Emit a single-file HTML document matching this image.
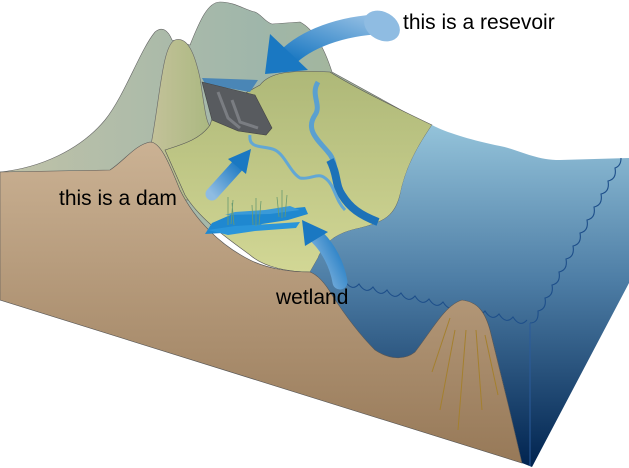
<!DOCTYPE html>
<html><head><meta charset="utf-8"><style>
html,body{margin:0;padding:0;background:#fff;width:629px;height:468px;overflow:hidden}
svg{display:block}
text{font-family:"Liberation Sans",Arial,sans-serif;font-size:21px;fill:#000}
</style></head><body>
<svg width="629" height="468" viewBox="0 0 629 468" xmlns="http://www.w3.org/2000/svg">
<defs>
<linearGradient id="mtn" x1="0" y1="0" x2="1" y2="0"><stop offset="0" stop-color="#c0c2a8"/><stop offset="0.6" stop-color="#9fb6aa"/><stop offset="1" stop-color="#a9b58c"/></linearGradient>
<linearGradient id="hill" x1="0" y1="0" x2="1" y2="0"><stop offset="0" stop-color="#c4c29a"/><stop offset="1" stop-color="#aab880"/></linearGradient>
<linearGradient id="land" x1="0" y1="0" x2="0" y2="1"><stop offset="0" stop-color="#aeb878"/><stop offset="1" stop-color="#d2d795"/></linearGradient>
<linearGradient id="sea" x1="0" y1="125" x2="0" y2="468" gradientUnits="userSpaceOnUse"><stop offset="0" stop-color="#94c3da"/><stop offset="0.45" stop-color="#4e7ea6"/><stop offset="1" stop-color="#00234f"/></linearGradient>
<linearGradient id="brown" x1="0" y1="0" x2="0" y2="1"><stop offset="0" stop-color="#cbb294"/><stop offset="1" stop-color="#977958"/></linearGradient>
<linearGradient id="arr" x1="1" y1="0" x2="0" y2="1"><stop offset="0" stop-color="#8fbce2"/><stop offset="1" stop-color="#1a78c2"/></linearGradient>
<linearGradient id="arr2" x1="0" y1="1" x2="1" y2="0"><stop offset="0" stop-color="#8fbce2"/><stop offset="1" stop-color="#1a78c2"/></linearGradient>
</defs>
<path d="M0,172 C40,168 80,150 105,120 C125,95 140,50 155,32 C162,26 168,30 172,40 L190,45 C200,20 208,2 220,2 C235,2 245,10 255,12 C262,15 265,22 272,24 L300,22 C315,30 325,50 332,72 L432,127 L432,230 L0,230 Z" fill="url(#mtn)" stroke="#666" stroke-width="0.6"/>
<path d="M150,150 C160,100 162,45 175,40 C188,36 195,55 200,78 C205,110 206,125 212,128 L200,200 L150,200 Z" fill="url(#hill)" stroke="#666" stroke-width="0.6"/>
<path d="M165,150 C180,145 200,140 210,125 L215,110 L260,85 C270,72 290,70 330,72 C350,85 390,105 432,125 C415,150 405,170 400,195 C395,215 385,222 360,228 C340,232 325,240 318,258 L310,272 C290,272 265,268 250,255 C230,240 200,220 185,195 Z" fill="url(#land)" stroke="#555" stroke-width="0.6"/>
<path d="M432,125 C445,132 470,140 500,146 C520,150 535,160 560,160 L629,158 L629,283 L532,467 L522,463 C512,420 500,370 490,330 C485,312 478,302 462,300 C445,305 432,330 415,352 C405,360 390,360 375,350 C360,335 345,315 332,295 C325,283 318,275 310,272 L318,258 C325,240 340,232 360,228 C385,222 395,215 400,195 C405,170 415,150 432,125 Z" fill="url(#sea)"/>
<path d="M345,281 q7,11 14,3 q7,11 14,3 q7,11 14,3 q7,11 14,3 q7,11 14,3 q7,11 14,3 q7,11 14,3 q7,11 14,3 q7,11 14,3 q7,11 14,3 q7,11 14,3 q7,11 14,3 q7,11 14,3" fill="none" stroke="#1e4f8a" stroke-width="1.1"/>
<path d="M530,323 q9,0 8,-12 q9,-2 7,-13 q9,-2 7,-13 q9,-2 7,-13 q9,-2 7,-13 q9,-2 7,-13 q9,-2 7,-13 q9,-2 7,-13 q9,-2 7,-13 q9,-2 7,-13 q9,-2 7,-13 q9,-2 7,-13 q6,-2 6,-10" fill="none" stroke="#1e4f8a" stroke-width="1.1"/>
<line x1="530" y1="323" x2="530" y2="466" stroke="#2a5a9a" stroke-width="1"/>
<path d="M0,172 L110,170 C125,160 135,145 150,142 C160,142 168,160 180,190 C195,220 220,245 250,260 C270,270 295,272 310,272 C318,275 325,283 332,295 C345,315 360,335 375,350 C390,360 405,360 415,352 C432,330 445,305 462,300 C478,302 485,312 490,330 C500,370 512,420 522,463 L0,300 Z" fill="url(#brown)" stroke="#555" stroke-width="0.6"/>
<g stroke="#a4802e" stroke-width="1" fill="none">
<path d="M450,318 L432,372"/><path d="M455,330 L440,410"/><path d="M466,330 L458,430"/><path d="M476,330 L482,410"/><path d="M485,335 L498,395"/>
</g>
<path d="M202,78 L258,80 L250,92 L205,84 Z" fill="#4a86b6"/>
<path d="M202,82 L255,95 L272,128 L266,135 L238,131 L212,120 Z" fill="#585b5f" stroke="#444" stroke-width="0.6"/>
<path d="M218,92 L228,118 L240,128 M232,100 L240,122 L258,128" stroke="#7a7d82" stroke-width="3" fill="none"/>
<path d="M318,82 C310,95 322,105 315,115 C305,130 318,140 328,152 C340,165 330,180 340,192 C348,205 355,215 378,222" fill="none" stroke="#5aa0d0" stroke-width="5"/>
<path d="M330,160 C338,175 335,185 342,195 C350,208 360,215 378,222" fill="none" stroke="#1d72b8" stroke-width="8"/>
<path d="M250,135 C248,150 265,145 275,150 C285,155 290,172 300,178 C310,180 318,172 325,178 C335,185 335,200 345,210" fill="none" stroke="#62a7d4" stroke-width="3"/>
<path d="M212,223 L235,213 L275,210 L305,207 L308,214 L288,220 L262,224 L240,232 L205,234 Z" fill="#1f88d0"/>
<path d="M208,230 L235,226 L270,224 L300,222 L296,228 L255,231 L228,235 Z" fill="#2a95da"/>
<path d="M225,215 L235,212 L265,210 L290,206 L300,210 L270,214 Z" fill="#3a9ad8"/>
<g stroke="#6a9a70" stroke-width="0.8"><path d="M228,225 l0,-28 M231,224 l2,-24 M234,225 l-2,-22 M256,226 l0,-28 M259,225 l2,-24 M253,225 l-1,-20 M282,218 l0,-28 M285,217 l2,-22 M279,217 l-2,-20"/></g>
<path d="M385,24 C340,25 305,40 287,58" fill="none" stroke="url(#arr)" stroke-width="20" stroke-linecap="round"/>
<path d="M265,74 L270,34 L308,70 Z" fill="#1a78c2"/>
<ellipse cx="382" cy="26" rx="14" ry="19" fill="#8fbce2" transform="rotate(-60 382 26)"/>
<path d="M212,194 C222,183 232,172 240,163" fill="none" stroke="url(#arr2)" stroke-width="13" stroke-linecap="round"/>
<path d="M251,149 L228,159 L246,174 Z" fill="#1a78c2"/>
<path d="M340,282 C337,264 328,248 318,238" fill="none" stroke="url(#arr2)" stroke-width="15" stroke-linecap="round"/>
<path d="M302,220 L305,246 L328,232 Z" fill="#1a78c2"/>
<text x="403" y="29">this is a resevoir</text>
<text x="59" y="205">this is a dam</text>
<text x="276" y="304">wetland</text>
</svg>
</body></html>
